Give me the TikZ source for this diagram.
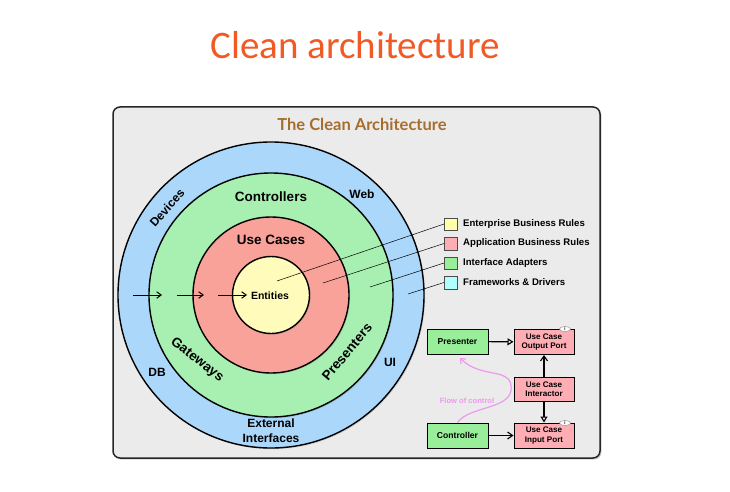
\documentclass[tikz,border=0pt]{standalone}
\usepackage{fontspec}
\setmainfont{Liberation Sans}
\newfontfamily\titlefont{Carlito}
\newfontfamily\headfont{Lato}
\usetikzlibrary{arrows.meta,shadows,shapes.geometric}
\definecolor{ttlorange}{HTML}{F15A24}
\definecolor{headbrown}{HTML}{A66E2E}
\definecolor{ringblue}{HTML}{AAD7FA}
\definecolor{ringgreen}{HTML}{A8F0B2}
\definecolor{ringred}{HTML}{F8A29A}
\definecolor{ringyellow}{HTML}{FFFBBA}
\definecolor{lgyellow}{HTML}{FFFFAA}
\definecolor{lgpink}{HTML}{FFADB5}
\definecolor{lggreen}{HTML}{99EE99}
\definecolor{lgcyan}{HTML}{B0FFFF}
\definecolor{flowpink}{HTML}{EE99EE}
\definecolor{framegray}{HTML}{EBEBEB}
\tikzset{
  ring/.style={circle, draw=black, line width=1.4pt, inner sep=0pt, minimum size=#1,
    drop shadow={opacity=0.25, shadow xshift=1.2pt, shadow yshift=-1.2pt}},
  lbl/.style={font=\bfseries\fontsize{13.5}{14}\selectfont, inner sep=0pt},
  olbl/.style={font=\bfseries\fontsize{12}{13}\selectfont, inner sep=0pt},
  lgbox/.style={draw=black!70, line width=0.5pt, minimum size=12.5pt, inner sep=0pt},
  lgtext/.style={font=\bfseries\fontsize{9.6}{10}\selectfont, anchor=west, inner sep=0pt},
  leader/.style={draw=black, line width=0.5pt},
  smallbox/.style={draw=black, line width=1pt, minimum width=60pt, minimum height=25pt,
    inner sep=0pt, align=center, font=\bfseries\fontsize{8.1}{9.3}\selectfont},
  flowarrow/.style={-{Straight Barb[length=5pt,width=7pt]}, line width=1.1pt},
  realarrow/.style={-{Triangle[open,length=6pt,width=7pt]}, line width=1.1pt},
  imark/.style={ellipse, draw=black!50, fill=white, line width=0.4pt, minimum width=11pt,
    minimum height=5pt, inner sep=0pt, font=\bfseries\fontsize{4}{4}\selectfont},
}
\begin{document}
\begin{tikzpicture}[x=1pt,y=-1pt]
\useasboundingbox (0,0) rectangle (730,492);
\fill[white] (0,0) rectangle (730,492);
\node[text=ttlorange, font=\titlefont\fontsize{39}{42}\selectfont] (title) at (355,45) {Clean architecture};
% frame
\draw[fill=framegray, line width=1.5pt, draw=black!85, rounded corners=7pt,
  drop shadow={opacity=0.35, shadow xshift=1.5pt, shadow yshift=-1.5pt}]
  (113,107) rectangle (600,458);
\node[text=headbrown, font=\headfont\bfseries\fontsize{16.5}{18}\selectfont] (head) at (362,124) {The Clean Architecture};
% rings
\node[ring=306pt, fill=ringblue] (blue) at (271,295) {};
\node[ring=244pt, fill=ringgreen] (green) at (271,295) {};
\node[ring=156pt, fill=ringred] (red) at (271,295) {};
\node[ring=77pt, fill=ringyellow] (yellow) at (271,295) {};
% ring labels
\node[lbl] (ctrl) at (271,197) {Controllers};
\node[lbl] (uc) at (271,240) {Use Cases};
\node[font=\bfseries\fontsize{10.5}{11}\selectfont, inner sep=0pt] (ent) at (270,296) {Entities};
\node[lbl, rotate=-38] (gw) at (197,360) {Gateways};
\node[lbl, rotate=50] (pres) at (347,352) {Presenters};
\node[olbl, rotate=48] (dev) at (167,208) {Devices};
\node[olbl] (web) at (362,194) {Web};
\node[olbl] (ui) at (390,362) {UI};
\node[olbl] (db) at (157,372) {DB};
\node[olbl] (ext) at (271,423) {External};
\node[olbl] (intf) at (271,438) {Interfaces};
% inward arrows
\coordinate (a1s) at (133,295); \coordinate (a1e) at (162,295);
\coordinate (a2s) at (177,295); \coordinate (a2e) at (204,295);
\coordinate (a3s) at (218,295); \coordinate (a3e) at (247,295);
\draw[-{Straight Barb[length=4.5pt,width=6.5pt]}, line width=1pt] (a1s) -- (a1e);
\draw[-{Straight Barb[length=4.5pt,width=6.5pt]}, line width=1pt] (a2s) -- (a2e);
\draw[-{Straight Barb[length=4.5pt,width=6.5pt]}, line width=1pt] (a3s) -- (a3e);
% legend
\node[lgbox, fill=lgyellow] (l1) at (450.5,224) {};
\node[lgbox, fill=lgpink] (l2) at (450.5,243.5) {};
\node[lgbox, fill=lggreen] (l3) at (450.5,263) {};
\node[lgbox, fill=lgcyan] (l4) at (450.5,282.5) {};
\node[lgtext] (t1) at (463,224) {Enterprise Business Rules};
\node[lgtext] (t2) at (463,243.5) {Application Business Rules};
\node[lgtext] (t3) at (463,263) {Interface Adapters};
\node[lgtext] (t4) at (463,282.5) {Frameworks \& Drivers};
\coordinate (p1) at (277,281);
\coordinate (p2) at (323,283);
\coordinate (p3) at (370,287);
\coordinate (p4) at (408,294);
\draw[leader] (l1.west) -- (p1);
\draw[leader] (l2.west) -- (p2);
\draw[leader] (l3.west) -- (p3);
\draw[leader] (l4.west) -- (p4);
% small diagram
\node[smallbox, fill=lggreen, minimum width=61pt, font=\bfseries\fontsize{8.6}{9.3}\selectfont] (presenter) at (457.5,341.5) {Presenter};
\node[smallbox, fill=lgpink] (outport) at (544,342) {Use Case\\Output Port};
\node[smallbox, fill=lgpink, minimum height=24pt] (interactor) at (544,389) {Use Case\\Interactor};
\node[smallbox, fill=lggreen, minimum width=61pt, font=\bfseries\fontsize{8.6}{9.3}\selectfont] (controller) at (457.5,435.5) {Controller};
\node[smallbox, fill=lgpink] (inport) at (544,435.5) {Use Case\\Input Port};
\node[imark] (im1) at (565,329) {I};
\node[imark] (im2) at (565,423) {I};
\draw[realarrow] (presenter) -- (outport);
\draw[flowarrow] (interactor) -- (outport);
\draw[realarrow] (interactor) -- (inport);
\draw[flowarrow] (controller) -- (inport);
% flow of control
\coordinate (fend) at (460,358);
\draw[flowpink, line width=1.2pt, -{Straight Barb[length=4pt,width=7pt]}]
  (controller.north) .. controls (470,405) and (515,410) .. (511,385)
  .. controls (508,368) and (480,378) .. (fend);
\node[text=flowpink, font=\bfseries\fontsize{7.6}{9}\selectfont, inner sep=0pt] (flow) at (467,401) {Flow of control};
\end{tikzpicture}
\end{document}
